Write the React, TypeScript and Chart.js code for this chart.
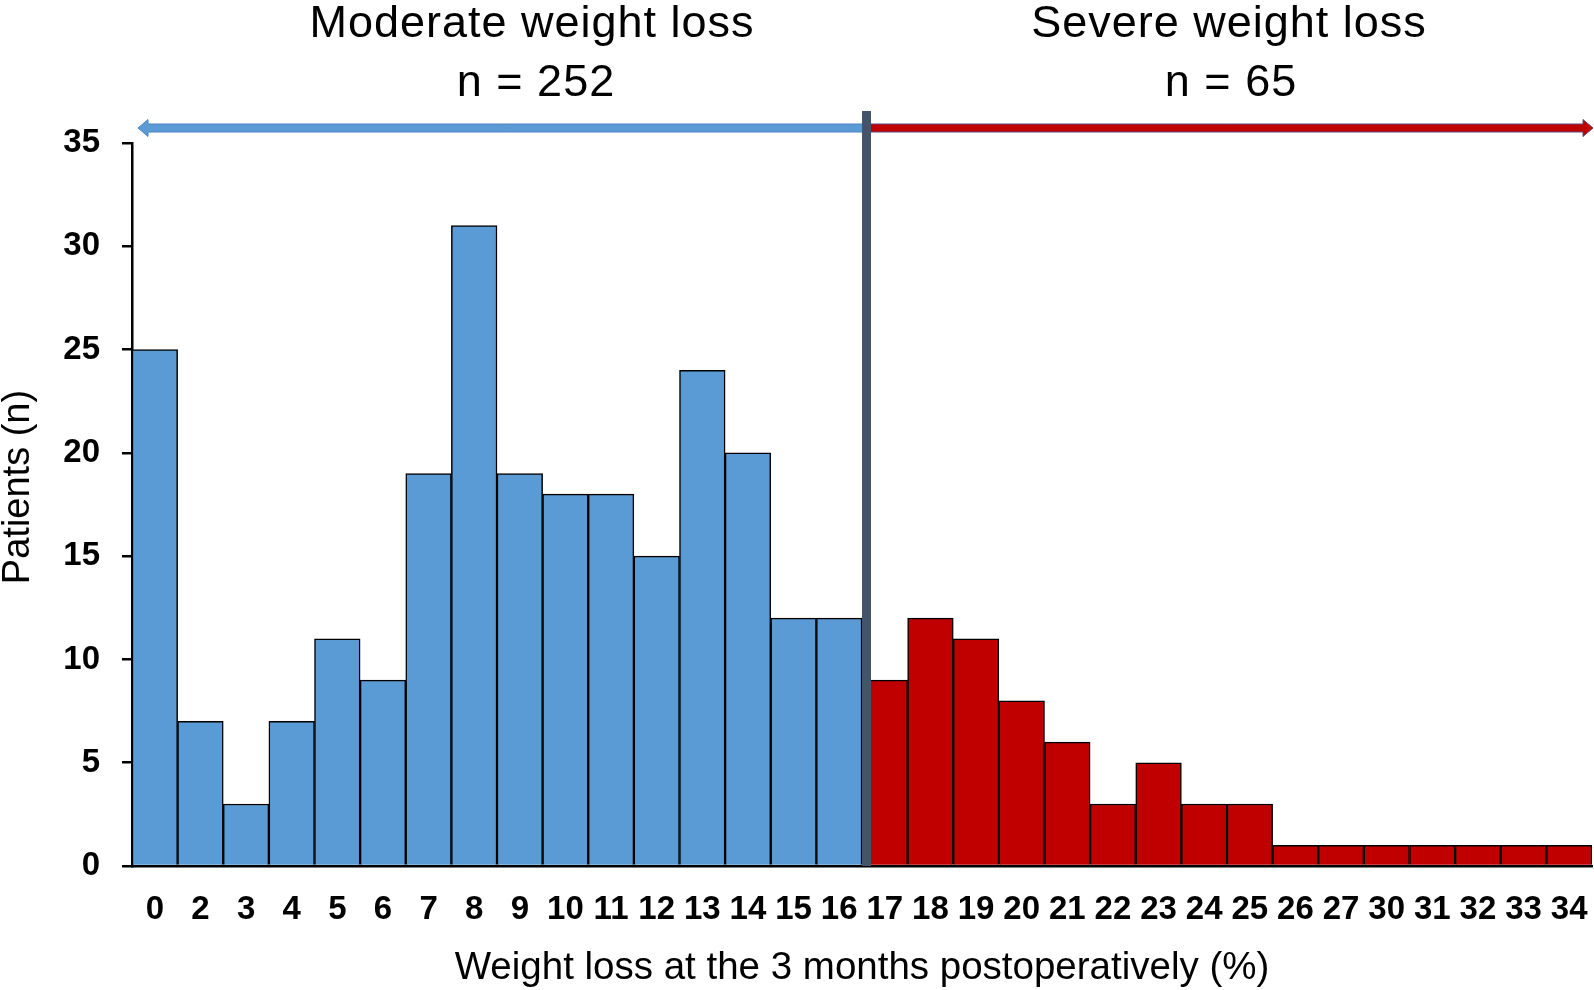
import React, { useEffect, useRef } from "react";
import { Chart, registerables } from "chart.js";

Chart.register(...registerables);

const categories = [
  "0", "2", "3", "4", "5", "6", "7", "8", "9", "10", "11", "12", "13", "14", "15", "16",
  "17", "18", "19", "20", "21", "22", "23", "24", "25", "26", "27", "30", "31", "32", "33", "34",
];
const moderateValues = [25, 7, 3, 7, 11, 9, 19, 31, 19, 18, 18, 15, 24, 20, 12, 12];
const severeValues = [9, 12, 11, 8, 6, 3, 5, 3, 3, 1, 1, 1, 1, 1, 1, 1];
const yMin = 0;
const yMax = 35;
const yStep = 5;
const moderateTitle = ["Moderate weight loss", "n = 252"];
const severeTitle = ["Severe weight loss", "n = 65"];
const xTitle = "Weight loss at the 3 months postoperatively (%)";
const yTitle = "Patients (n)";

const BLUE = "#5B9BD5";
const RED = "#C00000";
const FONT = "'Liberation Sans', Arial, sans-serif";

function drawArrow(
  ctx: CanvasRenderingContext2D,
  tail: number,
  tip: number,
  y: number,
  fill: string,
  stroke: string
) {
  const dir = tip > tail ? 1 : -1;
  const shaftHalf = 4;
  const headLen = 10;
  const headHalf = 8.5;
  const base = tip - dir * headLen;
  ctx.beginPath();
  ctx.moveTo(tail, y - shaftHalf);
  ctx.lineTo(base, y - shaftHalf);
  ctx.lineTo(base, y - headHalf);
  ctx.lineTo(tip, y);
  ctx.lineTo(base, y + headHalf);
  ctx.lineTo(base, y + shaftHalf);
  ctx.lineTo(tail, y + shaftHalf);
  ctx.closePath();
  ctx.fillStyle = fill;
  ctx.fill();
  ctx.lineWidth = 1;
  ctx.strokeStyle = stroke;
  ctx.stroke();
}

const overlayPlugin = {
  id: "overlay",
  afterDatasetsDraw(chart: any) {
    const { ctx, chartArea, scales } = chart;
    const x = scales.x;
    const n = moderateValues.length;
    const boundary = (x.getPixelForValue(n - 1) + x.getPixelForValue(n)) / 2;
    const lineW = 9;
    const arrowY = 128;
    ctx.save();
    // arrows
    drawArrow(ctx, boundary + 1, chartArea.left + 6, arrowY, BLUE, "#4A86C0");
    drawArrow(ctx, boundary + lineW - 1, chart.width - 1, arrowY, RED, "#5A4A78");
    // vertical divider
    ctx.fillStyle = "#44546A";
    ctx.fillRect(boundary, 111, lineW, chartArea.bottom - 111);
    // group titles
    ctx.fillStyle = "#000";
    ctx.textAlign = "center";
    ctx.textBaseline = "alphabetic";
    ctx.font = `45px ${FONT}`;
    try {
      (ctx as any).letterSpacing = "1px";
    } catch (e) {}
    ctx.fillText(moderateTitle[0], 532, 37);
    ctx.fillText(moderateTitle[1], 536, 96);
    ctx.fillText(severeTitle[0], 1229, 37);
    ctx.fillText(severeTitle[1], 1231, 96);
    try {
      (ctx as any).letterSpacing = "0px";
    } catch (e) {}
    // y title
    ctx.translate(19, 487);
    ctx.rotate(-Math.PI / 2);
    ctx.font = `38px ${FONT}`;
    ctx.textBaseline = "middle";
    ctx.fillText(yTitle, 0, 0);
    ctx.restore();
  },
};

export default function App() {
  const canvasRef = useRef<HTMLCanvasElement | null>(null);

  useEffect(() => {
    if (!canvasRef.current) return;
    document.body.style.margin = "0";
    Chart.defaults.font.family = FONT;
    const values = [...moderateValues, ...severeValues];
    const colors = values.map((_, i) => (i < moderateValues.length ? BLUE : RED));
    const chart = new Chart(canvasRef.current, {
      type: "bar",
      data: {
        labels: categories,
        datasets: [
          {
            data: values,
            backgroundColor: colors,
            borderColor: "#000",
            borderWidth: 1.5,
            barPercentage: 1,
            categoryPercentage: 1,
          },
        ],
      },
      options: {
        responsive: false,
        animation: false,
        devicePixelRatio: 1,
        layout: { padding: { top: 143, right: 2, left: 0, bottom: 0 } },
        plugins: {
          legend: { display: false },
          tooltip: { enabled: false },
        },
        scales: {
          x: {
            type: "category",
            grid: { display: false },
            border: { display: true, color: "#000", width: 2.5 },
            ticks: {
              color: "#000",
              font: { size: 33, weight: "bold" },
              padding: 16,
              maxRotation: 0,
              autoSkip: false,
            },
            title: {
              display: true,
              text: xTitle,
              color: "#000",
              font: { size: 38.5, lineHeight: 1.1 },
              padding: { top: 0, bottom: 0 },
            },
            afterFit(scale: any) {
              scale.height = 124;
              scale.paddingLeft = 0;
              scale.paddingRight = 0;
            },
          },
          y: {
            min: yMin,
            max: yMax,
            ticks: {
              stepSize: yStep,
              color: "#000",
              font: { size: 33, weight: "bold" },
              padding: 22,
            },
            grid: {
              drawOnChartArea: false,
              drawTicks: true,
              tickLength: 10,
              color: "#000",
              lineWidth: 2.5,
            },
            border: { display: true, color: "#000", width: 2.5 },
            afterFit(scale: any) {
              scale.width = 132;
            },
          },
        },
      } as any,
      plugins: [overlayPlugin],
    });
    return () => chart.destroy();
  }, []);

  return (
    <div style={{ position: "absolute", left: 0, top: 0, width: 1594, height: 990, background: "#fff" }}>
      <canvas ref={canvasRef} width={1594} height={990} style={{ width: 1594, height: 990 }} />
    </div>
  );
}
